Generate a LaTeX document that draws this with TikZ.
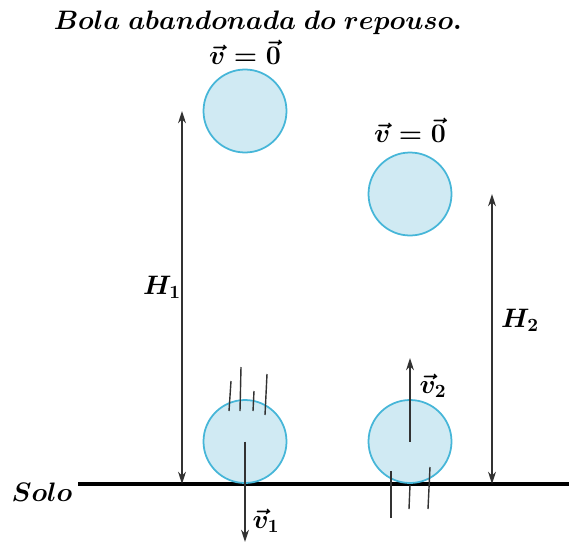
\RequirePackage{fix-cm}
\documentclass[tikz,border=0pt]{standalone}
\usepackage{amsmath,amssymb}
\usepackage{tikz}
\usetikzlibrary{arrows.meta,calc,positioning}
\definecolor{ballfill}{RGB}{208,234,243}
\definecolor{ballline}{RGB}{70,182,216}
\definecolor{arrowgray}{RGB}{50,50,50}

\begin{document}
\begin{tikzpicture}[>={Stealth[length=7pt,width=4.5pt]},
    ball/.style={circle,draw=ballline,fill=ballfill,line width=1pt,minimum size=1.66cm,inner sep=0pt},
    lbl/.style={font=\fontsize{15.2}{18}\selectfont\boldmath,inner sep=1pt},
    vec/.style={arrowgray,line width=0.8pt,->},
    trail/.style={arrowgray,line width=0.8pt}]
  \useasboundingbox (0,-1.16) rectangle (11.38,9.68);
  % ground
  \draw[line width=2.4pt] (1.56,0) coordinate (g0) -- (11.38,0) coordinate (g1);
  \node[lbl] (solo) at (0.84,-0.17) {$Solo$};
  % balls
  \node[ball] (b1top) at (4.9,7.46) {};
  \node[ball] (b2top) at (8.2,5.8) {};
  \node[ball] (b1bot) at (4.9,0.85) {};
  \node[ball] (b2bot) at (8.2,0.85) {};
  \node[lbl] (title) at (5.16,9.22) {$Bola\ abandonada\ do\ repouso.$};
  \node[lbl,above=1pt of b1top] (v0a) {$\vec{v}=\vec{0}$};
  \node[lbl,above=4pt of b2top] (v0b) {$\vec{v}=\vec{0}$};
  % heights
  \coordinate (h1b) at (3.64,0);
  \coordinate (h1t) at (h1b |- b1top);
  \coordinate (h2b) at (9.84,0);
  \coordinate (h2t) at (h2b |- b2top);
  \draw[vec,<->] (h1b) -- (h1t);
  \draw[vec,<->] (h2b) -- (h2t);
  \node[lbl] (H1) at (3.24,3.94) {$H_1$};
  \node[lbl] (H2) at (10.4,3.28) {$H_2$};
  % velocities
  \coordinate (v1e) at (4.9,-1.16);
  \coordinate (v2e) at (8.2,2.52);
  \draw[vec] (b1bot.center) -- (v1e);
  \draw[vec] (b2bot.center) -- (v2e);
  \node[lbl] (v1) at (5.32,-0.74) {$\vec{v}_1$};
  \node[lbl] (v2) at (8.66,1.96) {$\vec{v}_2$};
  % motion lines
  \draw[trail] (4.62,2.06) -- (4.58,1.46);
  \draw[trail] (4.82,2.34) -- (4.80,1.46);
  \draw[trail] (5.08,1.86) -- (5.06,1.46);
  \draw[trail] (5.34,2.20) -- (5.30,1.38);
  \draw[trail] (7.82,0.26) -- (7.82,-0.68);
  \draw[trail] (8.20,-0.02) -- (8.18,-0.50);
  \draw[trail] (8.60,0.34) -- (8.56,-0.50);
\end{tikzpicture}
\end{document}
